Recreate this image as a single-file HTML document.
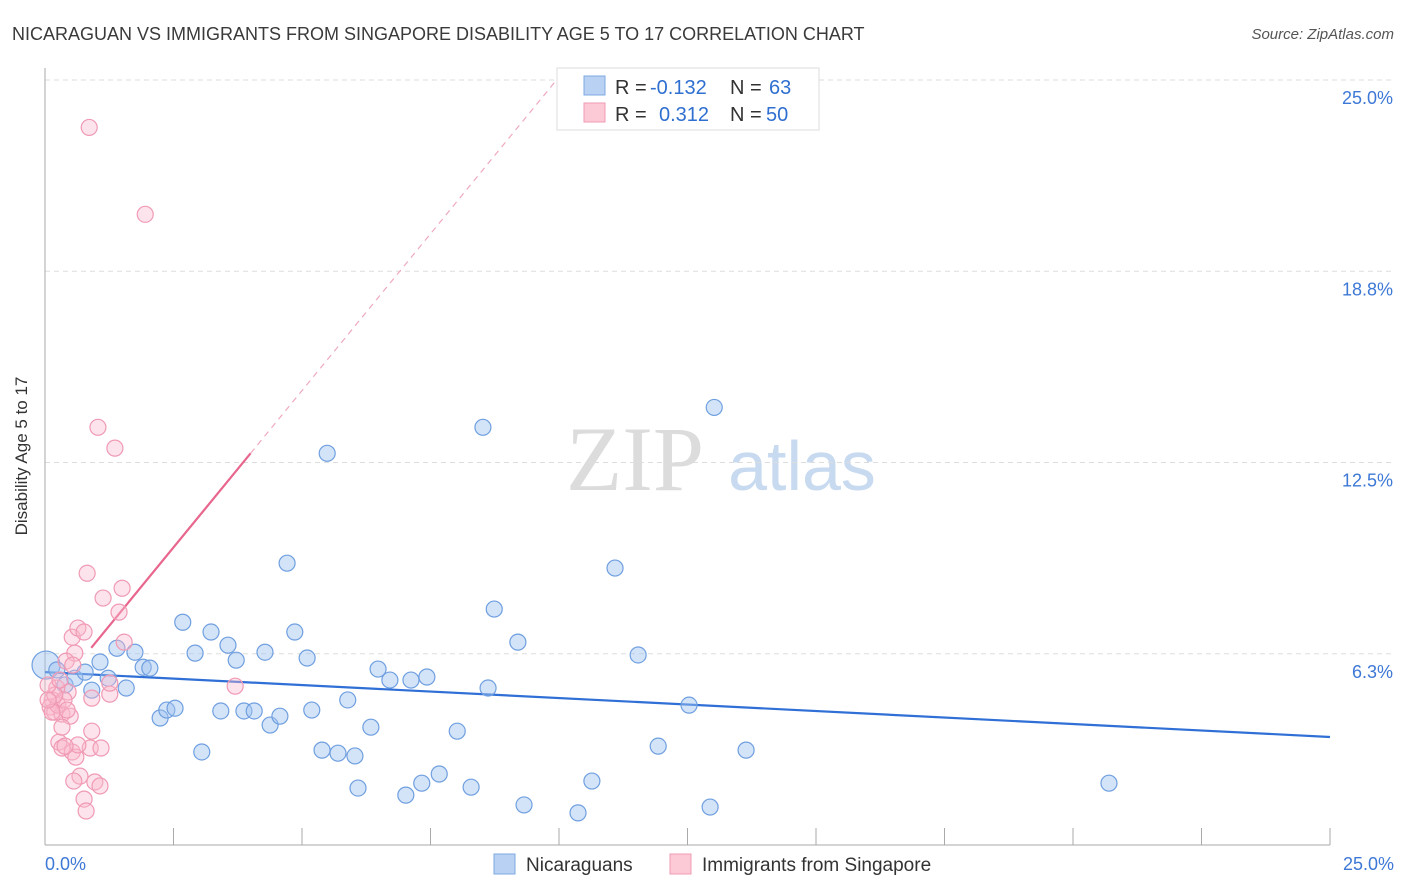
<!DOCTYPE html>
<html><head><meta charset="utf-8"><style>
body{margin:0;background:#fff;font-family:"Liberation Sans",sans-serif;}
svg{display:block}
</style></head><body>
<svg id="chart" width="1406" height="892" xmlns="http://www.w3.org/2000/svg">
<text x="12" y="40" font-size="18" fill="#3a3a3a">NICARAGUAN VS IMMIGRANTS FROM SINGAPORE DISABILITY AGE 5 TO 17 CORRELATION CHART</text>
<text x="1394" y="39" font-size="15" fill="#555" font-style="italic" text-anchor="end">Source: ZipAtlas.com</text>
<text x="27" y="456" font-size="17" fill="#333" text-anchor="middle" transform="rotate(-90 27 456)">Disability Age 5 to 17</text>
<g>
<text x="635" y="490" font-size="92" fill="#dcdcdc" font-family="Liberation Serif,serif" text-anchor="middle">ZIP</text>
<text x="802" y="490" font-size="70" fill="#c8daf0" text-anchor="middle">atlas</text>
</g>
<g id="grid"></g><g id="axes"></g><g id="trend"></g><g id="pts"></g>
<g>
<rect x="557" y="68" width="262" height="62" fill="#fff" stroke="#ddd"/>
<rect x="584" y="76" width="21" height="19" fill="#b9d2f3" stroke="#7fa8e0"/>
<rect x="584" y="103" width="21" height="19" fill="#fcc9d7" stroke="#f29bb5"/>
<text y="94" font-size="20"><tspan x="615" fill="#333">R = </tspan><tspan x="650" fill="#2f6fd0">-0.132</tspan><tspan x="730" fill="#333">N = </tspan><tspan x="769" fill="#2f6fd0">63</tspan></text>
<text y="121" font-size="20"><tspan x="615" fill="#333">R = </tspan><tspan x="659" fill="#2f6fd0">0.312</tspan><tspan x="730" fill="#333">N = </tspan><tspan x="766" fill="#2f6fd0">50</tspan></text>
</g>
<g>
<rect x="494" y="854" width="21" height="20" fill="#b9d2f3" stroke="#7fa8e0"/>
<text x="526" y="871" font-size="19" fill="#333">Nicaraguans</text>
<rect x="670" y="854" width="21" height="20" fill="#fcc9d7" stroke="#f29bb5"/>
<text x="702" y="871" font-size="19" fill="#333">Immigrants from Singapore</text>
</g>
</svg>
<script>
const yTicks=[25,18.75,12.5,6.25];
const yTickLabels=["25.0%","18.8%","12.5%","6.3%"];
const xTickLabels=["0.0%","25.0%"];
const blueX=[0.02,0.23,0.39,0.58,0.78,0.91,1.07,1.23,1.40,1.58,1.75,1.91,2.04,2.24,2.37,2.53,2.68,2.92,3.05,3.23,3.42,3.56,3.72,3.87,4.07,4.28,4.38,4.57,4.71,4.86,5.10,5.19,5.39,5.49,5.70,5.89,6.03,6.09,6.34,6.48,6.71,7.02,7.12,7.33,7.43,7.67,8.02,8.29,8.52,8.62,8.74,9.20,9.32,10.37,10.64,11.09,11.54,11.93,12.53,12.94,13.02,13.64,20.70];
const blueY=[5.88,5.72,5.23,5.45,5.65,5.06,5.98,5.45,6.43,5.13,6.30,5.81,5.78,4.15,4.41,4.47,7.28,6.27,3.04,6.96,4.38,6.53,6.04,4.38,4.38,6.30,3.92,4.21,9.21,6.96,6.11,4.41,3.10,12.80,3.00,4.74,2.91,1.86,3.85,5.75,5.39,1.63,5.39,2.02,5.49,2.32,3.72,1.89,13.65,5.13,7.71,6.63,1.31,1.05,2.09,9.05,6.21,3.23,4.57,1.24,14.30,3.10,2.02];
const pinkX=[0.86,1.95,1.03,1.36,0.82,1.50,1.13,1.44,1.54,0.53,0.64,0.76,0.58,0.41,0.45,0.23,0.14,0.10,0.19,0.33,0.49,0.25,0.37,0.91,1.26,3.70,0.27,0.33,0.53,0.60,0.88,1.09,0.91,0.33,0.68,0.56,0.97,1.07,0.76,0.80,0.19,0.06,0.29,0.14,0.43,0.64,0.39,0.54,0.06,1.26];
const pinkY=[23.45,20.61,13.65,12.97,8.88,8.39,8.07,7.61,6.63,6.79,7.09,6.96,6.27,6.01,5.00,5.13,4.74,4.51,4.34,4.28,4.21,4.57,4.74,4.80,4.93,5.19,3.36,3.17,3.04,2.87,3.17,3.17,3.72,3.85,2.25,2.09,2.06,1.93,1.50,1.11,4.90,5.23,5.39,4.34,4.41,3.27,3.23,5.88,4.74,5.29];
const blueTrend=[5.65,3.53];
const pinkTrend=[4.6,2.05];
const NS="http://www.w3.org/2000/svg";
const X0=45,X1=1330,Y0=845,Y25=80;
const sx=v=>X0+(X1-X0)*v/25, sy=v=>Y0-(Y0-Y25)*v/25;
function mk(tag,attrs,parent){const e=document.createElementNS(NS,tag);for(const k in attrs)e.setAttribute(k,attrs[k]);document.getElementById(parent).appendChild(e);return e;}
yTicks.forEach((t,i)=>{
 const l=mk('line',{x1:X0,x2:1395,y1:sy(t),y2:sy(t),stroke:'#ddd','stroke-dasharray':'5,4'},'grid');
 
 
 const tx=mk('text',{x:1393,y:sy(t)+24,'font-size':18,fill:'#3d78d6','text-anchor':'end'},'grid');
 tx.textContent=yTickLabels[i];
 
 
});
const ax=mk('line',{x1:X0,x2:X1,y1:Y0,y2:Y0,stroke:'#aaa'},'axes');


const ay=mk('line',{x1:X0,x2:X0,y1:68,y2:Y0,stroke:'#aaa'},'axes');


for(let i=0;i<=10;i++){const x=sx(i*2.5);const t=mk('line',{x1:x,x2:x,y1:828,y2:Y0,stroke:'#aaa'},'axes');
 
 }
[[0,'start'],[25,'end']].forEach((p,i)=>{const t=mk('text',{x:i?1394:45,y:870,'font-size':18,fill:'#3d78d6','text-anchor':p[1]},'axes');t.textContent=xTickLabels[i];
 
 });
// trends
const bt=mk('line',{x1:sx(0),y1:sy(blueTrend[0]),x2:sx(25),y2:sy(blueTrend[0]+blueTrend[1]*0+(blueTrend[1]-blueTrend[0])),stroke:'#2f6fd6','stroke-width':2.2},'trend');


const pEnd=4.0,pDash=(25-pinkTrend[0])/pinkTrend[1];
const pt=mk('line',{x1:sx(0.9),y1:sy(pinkTrend[0]+pinkTrend[1]*0.9),x2:sx(pEnd),y2:sy(pinkTrend[0]+pinkTrend[1]*pEnd),stroke:'#e8668e','stroke-width':2.2},'trend');


const pd=mk('line',{x1:sx(pEnd),y1:sy(pinkTrend[0]+pinkTrend[1]*pEnd),x2:sx(pDash),y2:sy(25),stroke:'#eeaabd','stroke-width':1.2,'stroke-dasharray':'6,5'},'trend');


blueX.forEach((v,i)=>{const c=mk('circle',{cx:sx(v),cy:sy(blueY[i]),r:i===0?14:8,fill:'rgba(160,195,240,0.45)',stroke:'#6f9fe0','stroke-width':1.2},'pts');
 
 });
pinkX.forEach((v,i)=>{const c=mk('circle',{cx:sx(v),cy:sy(pinkY[i]),r:8,fill:'rgba(250,185,205,0.4)',stroke:'#f09ab4','stroke-width':1.2},'pts');
 
 });
</script>
</body></html>
